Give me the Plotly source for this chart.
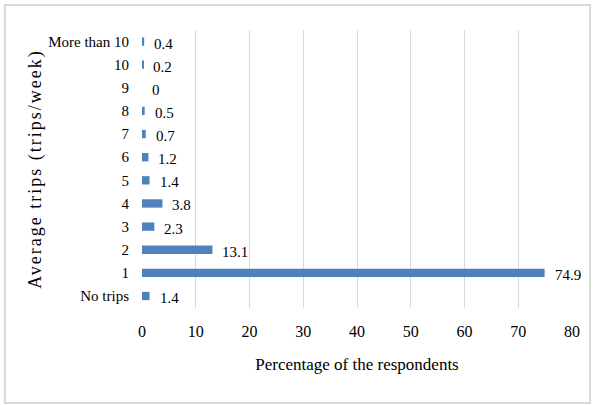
import plotly.graph_objects as go

# Weekly trip frequency and the share of respondents in each group
categories = ["No trips", "1", "2", "3", "4", "5", "6", "7", "8", "9", "10", "More than 10"]
percentages = [1.4, 74.9, 13.1, 2.3, 3.8, 1.4, 1.2, 0.7, 0.5, 0, 0.2, 0.4]
x_ticks = [0, 10, 20, 30, 40, 50, 60, 70, 80]

FONT = "Liberation Serif"
BAR_COLOR = "#4F81BD"
GRID_COLOR = "#d9d9d9"

fig = go.Figure()
fig.add_trace(go.Bar(
    y=categories,
    x=percentages,
    orientation="h",
    marker=dict(color=BAR_COLOR, line=dict(width=0)),
    hoverinfo="x+y",
))

# Value labels just past the end of each bar
for cat, val in zip(categories, percentages):
    fig.add_annotation(
        x=val, y=cat, text=f"{val:g}",
        xref="x", yref="y",
        xanchor="left", yanchor="middle",
        xshift=8, yshift=-2,
        showarrow=False,
        font=dict(family=FONT, size=15, color="#000000"),
    )

# Light outer frame around the whole chart
fig.add_shape(
    type="rect", xref="paper", yref="paper",
    x0=-0.319, x1=1.042, y0=-0.342, y1=1.090,
    line=dict(color=GRID_COLOR, width=2),
    fillcolor="rgba(0,0,0,0)", layer="below",
)

fig.update_layout(
    width=593, height=405,
    margin=dict(l=142, r=21, t=30, b=97),
    paper_bgcolor="white",
    plot_bgcolor="white",
    bargap=0.64,
    showlegend=False,
    font=dict(family=FONT, size=15, color="#000000"),
    xaxis=dict(
        range=[0, 80],
        tickvals=x_ticks,
        showgrid=True, gridcolor=GRID_COLOR, gridwidth=1,
        zeroline=False, showline=False,
        ticks="", ticklabelstandoff=12,
        tickfont=dict(family=FONT, size=16),
        title=dict(text="Percentage of the respondents",
                   font=dict(family=FONT, size=17), standoff=19),
        fixedrange=True,
    ),
    yaxis=dict(
        categoryorder="array", categoryarray=categories,
        showgrid=False, zeroline=False, showline=False,
        ticks="", ticklabelstandoff=12,
        tickfont=dict(family=FONT, size=15),
        title=dict(text="Average trips (trips/week)",
                   font=dict(family=FONT, size=18), standoff=1),
        fixedrange=True,
    ),
)

# Spread out the letters of the vertical axis title
spacing_js = """
var gd = document.getElementById('{plot_id}');
function spreadTitle() {
  gd.querySelectorAll('.ytitle').forEach(function (t) {
    t.style.letterSpacing = '2px';
  });
}
spreadTitle();
gd.on('plotly_afterplot', spreadTitle);
"""

fig.write_html("out.html", post_script=spacing_js)
